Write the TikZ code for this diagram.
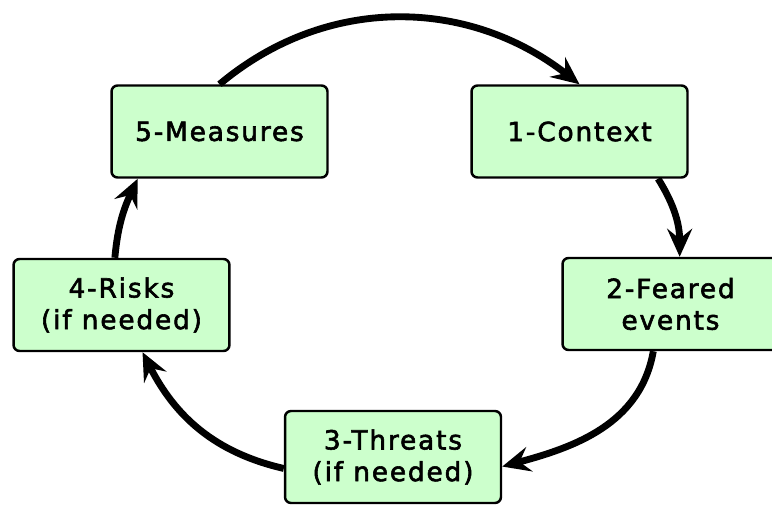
\documentclass[tikz,border=0pt]{standalone}
\usepackage{fontspec}
\setmainfont{DejaVu Sans}[LetterSpace=7, FakeBold=2.2]
\usetikzlibrary{arrows.meta}
\definecolor{phasegreen}{HTML}{CCFFCC}
\begin{document}
\begin{tikzpicture}[x=0.02cm, y=0.02cm,
    phase/.style={draw, line width=1.4pt, rounded corners=0.12cm, fill=phasegreen,
      minimum width=4.32cm, minimum height=1.84cm, align=center,
      font=\fontsize{15}{18}\selectfont},
    flow/.style={-{Stealth[length=0.56cm, width=0.5cm, inset=0.2cm]}, line width=3.9pt}]
    \useasboundingbox (0,0) rectangle (772,505);
    \clip (0,0) rectangle (772,505);

    % Boxes
    \node[phase] (meas) at (219.5,373.5) {5-Measures};
    \node[phase] (ctx) at (579.5,373.5) {1-Context};
    \node[phase] (fear) at (670.5,201) {2-Feared\\events};
    \node[phase] (threat) at (393,48) {3-Threats\\(if needed)};
    \node[phase] (risk) at (121.5,200) {4-Risks\\(if needed)};

    % Arrows
    \draw[flow] (meas.north) to[out=40, in=142] (ctx.north);
    \draw[flow] (ctx.-31) to[out=-58, in=90] (fear.79);
    \draw[flow] (fear.-110) to[out=-100, in=15] (threat.-5);
    \draw[flow] (threat.186) to[out=167, in=-63] (risk.-66);
    \draw[flow] (risk.98) to[out=85, in=-115] (meas.210);
\end{tikzpicture}
\end{document}
